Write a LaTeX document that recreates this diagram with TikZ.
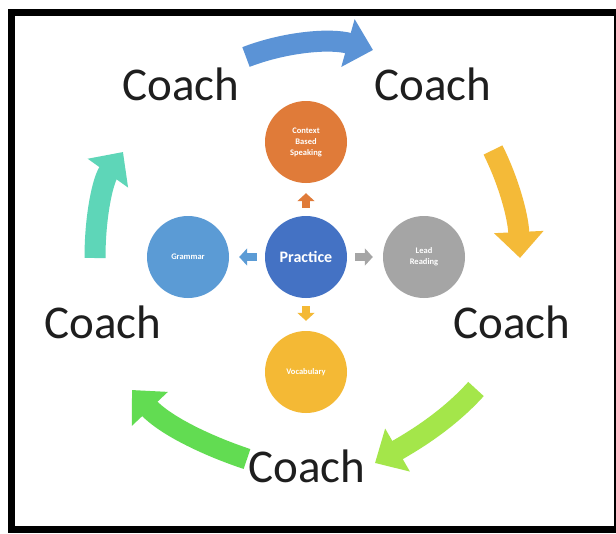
\documentclass[tikz,border=0pt]{standalone}
\usepackage{fontspec}
\setmainfont{Carlito}
\usetikzlibrary{arrows.meta}
\definecolor{coachtext}{HTML}{1E1E1E}
\definecolor{practiceblue}{HTML}{4472C4}
\definecolor{speakorange}{HTML}{E07B39}
\definecolor{grammarblue}{HTML}{5B9BD5}
\definecolor{readgray}{HTML}{A5A5A5}
\definecolor{vocabgold}{HTML}{F4B935}
\definecolor{loopblue}{HTML}{5B93D6}
\definecolor{loopyellow}{HTML}{F4BA38}
\definecolor{loopteal}{HTML}{5ED6B8}
\definecolor{loopgreen}{HTML}{62DC52}
\definecolor{looplime}{HTML}{A4E64A}
\begin{document}
\begin{tikzpicture}[x=1pt,y=-1pt,
    ball/.style={circle,minimum size=82pt,inner sep=0pt,align=center,text=white,font=\fontsize{8.5}{11}\selectfont\bfseries},
    coach/.style={text=coachtext,font=\fontsize{47}{47}\selectfont},
    roundarrow/.style={line width=21pt,-{Triangle[length=26pt,width=48pt]}},
    push/.style={line width=8pt,-{Triangle[length=8pt,width=17pt]},shorten <=8pt,shorten >=10pt}]
\useasboundingbox (0,0) rectangle (616,533);
% frame
\fill (8,9) rectangle (616,533);
\fill[white] (15,16) rectangle (614,526);
% circles
\path (306,257) node[ball,fill=practiceblue,font=\fontsize{16}{16}\selectfont\bfseries](practice){Practice}
      (306,142) node[ball,fill=speakorange](speak){Context\\Based\\Speaking}
      (188,257) node[ball,fill=grammarblue](grammar){Grammar}
      (424,257) node[ball,fill=readgray](reading){Lead\\Reading}
      (306,372) node[ball,fill=vocabgold](vocab){Vocabulary};
\path[push]
    (practice) edge[speakorange] (speak)
    (practice) edge[grammarblue] (grammar)
    (practice) edge[readgray] (reading)
    (practice) edge[vocabgold] (vocab);
% coaches
\path (181,84) node[coach](coachTL){Coach}  (433,84) node[coach](coachTR){Coach}
      (512,322) node[coach](coachR){Coach}  (307,466) node[coach](coachB){Coach}
      (103,322) node[coach](coachL){Coach};
% loop ends
\coordinate (topA) at (246,57);   \coordinate (topB) at (373,50);
\coordinate (rightA) at (493,150); \coordinate (rightB) at (520,258);
\coordinate (lowrA) at (476,389);  \coordinate (lowrB) at (375,463);
\coordinate (lowlA) at (247,459);  \coordinate (lowlB) at (132,390);
\coordinate (leftA) at (95,258);   \coordinate (leftB) at (123,152);
\draw[roundarrow,loopblue] (topA) .. controls (285,42) and (330,38) .. (topB);
\draw[roundarrow,loopyellow] (rightA) .. controls (508,180) and (518,215) .. (rightB);
\draw[roundarrow,looplime] (lowrA) .. controls (448,420) and (415,440) .. (lowrB);
\draw[roundarrow,loopgreen] (lowlA) .. controls (205,445) and (165,425) .. (lowlB);
\draw[roundarrow,loopteal] (leftA) .. controls (95,215) and (103,180) .. (leftB);
\end{tikzpicture}
\end{document}
